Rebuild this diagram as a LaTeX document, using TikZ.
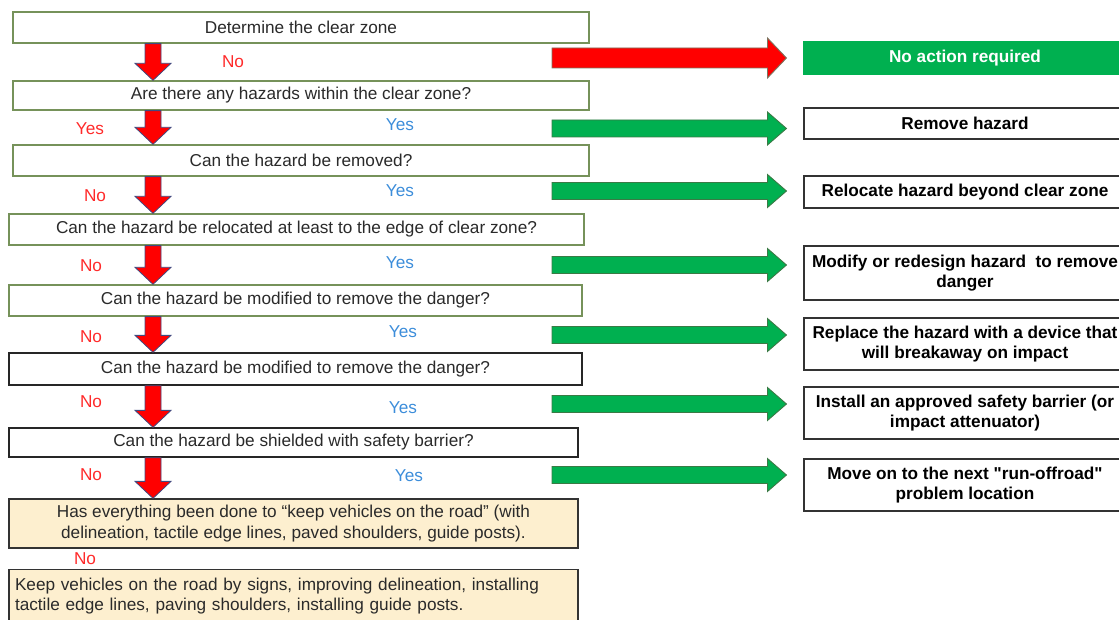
\documentclass[tikz,border=0pt]{standalone}
\usepackage{fontspec}
\setmainfont{Liberation Sans}
\usetikzlibrary{calc}
\definecolor{boxolive}{HTML}{76925A}
\definecolor{okgreen}{HTML}{00B050}
\definecolor{okgreenline}{HTML}{3A7A45}
\definecolor{redline}{HTML}{7A7560}
\definecolor{navyline}{HTML}{3F4A80}
\definecolor{lblred}{HTML}{FF2A2A}
\definecolor{lblblue}{HTML}{3C8DDA}
\definecolor{cream}{HTML}{FDEFCF}
\definecolor{txtgray}{HTML}{2A2A2A}
\newcommand\diafont{\fontsize{17.2}{20.5}\selectfont}
\newcommand\dnarr[2]{\draw[dnstyle] let \p1=(#1.south -| ax), \p2=(#2.north -| ax) in
  (\x1-8pt,\y1) -- (\x1+8pt,\y1) -- (\x1+8pt,\y2+17pt) -- (\x1+18pt,\y2+17pt) -- (\x2,\y2)
  -- (\x1-18pt,\y2+17pt) -- (\x1-8pt,\y2+17pt) -- cycle;}
\newcommand\harr[5]{\draw[#1] let \p1=(#2), \p2=(#3.west) in
  (\x1,\y1+#4) -- (\x2-36pt,\y1+#4) -- (\x2-36pt,\y1+#5) -- (\x2-17pt,\y1)
  -- (\x2-36pt,\y1-#5) -- (\x2-36pt,\y1-#4) -- (\x1,\y1-#4) -- cycle;}
\tikzset{
  lbox/.style={draw=boxolive, line width=1.3pt, fill=white, inner sep=0pt,
    minimum height=31pt, text=txtgray, font=\diafont},
  kbox/.style={lbox, draw=black!85},
  ybox/.style={lbox, draw=black!80, fill=cream, minimum height=49pt, align=center},
  rbox/.style={draw=black!80, line width=1.1pt, fill=white, inner sep=0pt,
    minimum width=322pt, minimum height=31pt, text=black, font=\diafont\bfseries, align=center},
  gbox/.style={rbox, draw=okgreen, fill=okgreen, text=white},
  lblno/.style={text=lblred, font=\diafont, inner sep=0pt},
  lblyes/.style={text=lblblue, font=\diafont, inner sep=0pt},
  dnstyle/.style={fill=red, draw=navyline, line width=0.8pt, line join=miter},
  redarr/.style={fill=red, draw=redline, line width=0.9pt},
  grnarr/.style={fill=okgreen, draw=okgreenline, line width=0.9pt},
}
\begin{document}
\begin{tikzpicture}[x=1pt,y=-1pt]
\useasboundingbox (0,0) rectangle (1119,620);
\clip (0,0) rectangle (1119,620);
\coordinate (ax) at (153,0);
% left column
\node[lbox, minimum width=576pt] (b1) at (301,27.5) {Determine the clear zone};
\node[lbox, minimum width=576pt, minimum height=29pt] (b2) at (301,95.5) {Are there any hazards within the clear zone?};
\node[lbox, minimum width=576pt] (b3) at (301,160.5) {Can the hazard be removed?};
\node[lbox, minimum width=575pt] (b4) at (296.5,229.5) {Can the hazard be relocated at least to the edge of clear zone?};
\node[lbox, minimum width=573pt] (b5) at (295.5,300.5) {Can the hazard be modified to remove the danger?};
\node[kbox, minimum width=573pt, minimum height=32pt] (b6) at (295.5,369) {Can the hazard be modified to remove the danger?};
\node[kbox, minimum width=569pt, minimum height=29pt] (b7) at (293.5,442.5) {Can the hazard be shielded with safety barrier?};
\node[ybox, minimum width=569pt] (b8) at (293.5,523.5) {Has everything been done to “keep vehicles on the road” (with\\delineation, tactile edge lines, paved shoulders, guide posts).};
\node[ybox, minimum width=569pt, minimum height=53pt, align=left, text width=557pt] (b9) at (293.5,596) {Keep vehicles on the road by signs, improving delineation, installing\\tactile edge lines, paving shoulders, installing guide posts.};
% right column
\node[gbox, minimum height=32pt] (r1) at (965,58) {No action required};
\node[rbox] (r2) at (965,123.5) {Remove hazard};
\node[rbox, minimum height=32pt] (r3) at (965,192) {Relocate hazard beyond clear zone};
\node[rbox, minimum height=54pt] (r4) at (965,273) {Modify or redesign hazard\ \ to remove\\danger};
\node[rbox, minimum height=52pt] (r5) at (965,344) {Replace the hazard with a device that\\will breakaway on impact};
\node[rbox, minimum height=52pt] (r6) at (965,413) {Install an approved safety barrier (or\\impact attenuator)};
\node[rbox, minimum height=52pt] (r7) at (965,485) {Move on to the next \textquotedbl run-offroad\textquotedbl\\problem location};
% down arrows
\dnarr{b1}{b2}
\dnarr{b2}{b3}
\dnarr{b3}{b4}
\dnarr{b4}{b5}
\dnarr{b5}{b6}
\dnarr{b6}{b7}
\dnarr{b7}{b8}
% horizontal arrows
\coordinate (t1) at (552,58);
\coordinate (t2) at (552,128.5);
\coordinate (t3) at (552,191);
\coordinate (t4) at (552,265);
\coordinate (t5) at (552,335);
\coordinate (t6) at (552,404);
\coordinate (t7) at (552,475);
\harr{redarr}{t1}{r1}{10pt}{20pt}
\harr{grnarr}{t2}{r2}{8.5pt}{16.5pt}
\harr{grnarr}{t3}{r3}{8.5pt}{16.5pt}
\harr{grnarr}{t4}{r4}{8.5pt}{16.5pt}
\harr{grnarr}{t5}{r5}{8.5pt}{16.5pt}
\harr{grnarr}{t6}{r6}{8.5pt}{16.5pt}
\harr{grnarr}{t7}{r7}{8.5pt}{16.5pt}
% labels
\node[lblno] (n1) at (233,62) {No};
\node[lblno] (n2) at (90,129) {Yes};
\node[lblyes] (y2) at (400,125) {Yes};
\node[lblno] (n3) at (95,196) {No};
\node[lblyes] (y3) at (400,191) {Yes};
\node[lblno] (n4) at (91,266) {No};
\node[lblyes] (y4) at (400,263) {Yes};
\node[lblno] (n5) at (91,337) {No};
\node[lblyes] (y5) at (403,332) {Yes};
\node[lblno] (n6) at (91,402) {No};
\node[lblyes] (y6) at (403,408) {Yes};
\node[lblno] (n7) at (91,475) {No};
\node[lblyes] (y7) at (409,476) {Yes};
\node[lblno] (n8) at (85,559) {No};
\end{tikzpicture}
\end{document}
